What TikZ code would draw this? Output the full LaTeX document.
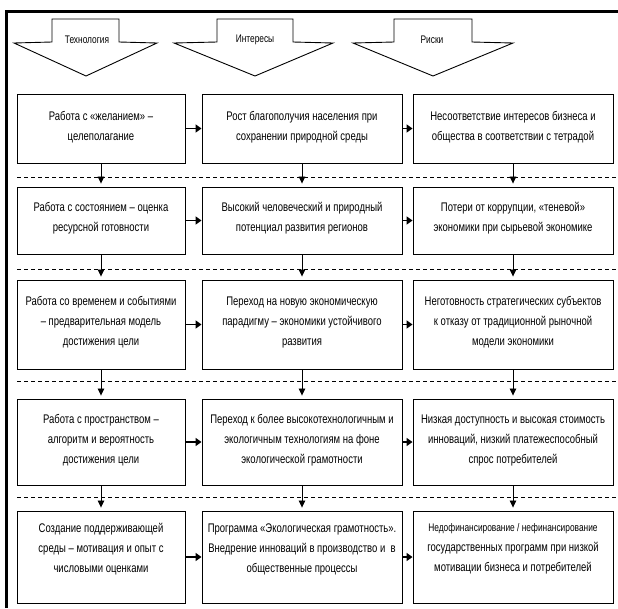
\documentclass[tikz,border=0pt]{standalone}
\usepackage{fontspec}
\setmainfont{Liberation Sans}[FakeStretch=0.76]
\usetikzlibrary{arrows.meta}
\begin{document}
\begin{tikzpicture}[x=1pt,y=-1pt,
  box/.style={draw=black,line width=0.9pt,rectangle,inner sep=0pt},
  txt/.style={align=center,inner sep=0pt,font=\fontsize{12.5}{20}\selectfont},
  toplabel/.style={inner sep=0pt,font=\fontsize{11}{12}\selectfont},
  blockarr/.style={draw=black,line width=0.9pt,line join=miter},
  harr/.style={draw=black,line width=1.8pt,-{Triangle[length=6pt,width=8pt]}},
  varr/.style={draw=black,line width=0.8pt,-{Triangle[length=7pt,width=6.5pt]},shorten >=3pt},
  dashline/.style={draw=black,line width=1pt,dash pattern=on 4pt off 3pt}
]
\useasboundingbox (0,0) rectangle (618,608);
\fill[white] (0,0) rectangle (618,608);
% frame
\draw[line width=3pt] (6.5,608) -- (6.5,11) -- (618,11);
% block arrows
\draw[blockarr] (52,19) -- (119,19) -- (119,42) -- (157,43) -- (86,76) -- (14,43) -- (52,42) -- cycle;
\draw[blockarr] (217,19) -- (293,19) -- (293,42) -- (333,43) -- (255,76) -- (174,43) -- (217,42) -- cycle;
\draw[blockarr] (394,19) -- (472,19) -- (472,42) -- (513,43) -- (433,76) -- (353,43) -- (394,42) -- cycle;
\node[toplabel] (h1) at (87,40) {Технология};
\node[toplabel] (h2) at (255,40) {Интересы};
\node[toplabel] (h3) at (432,40) {Риски};
% dashed separators
\draw[dashline] (17,177) -- (618,177);
\draw[dashline] (17,269) -- (618,269);
\draw[dashline] (17,381) -- (618,381);
\draw[dashline] (17,497) -- (618,497);
% boxes
\foreach \r/\cy/\h in {1/128.5/69, 2/220.5/67, 3/324.5/89, 4/442/86, 5/557/92}{
  \node[box,minimum width=168pt,minimum height=\h pt] (b\r1) at (101,\cy) {};
  \node[box,minimum width=200pt,minimum height=\h pt] (b\r2) at (302,\cy) {};
  \node[box,minimum width=200pt,minimum height=\h pt] (b\r3) at (513,\cy) {};
}
% texts
\node[txt] (t11) at (101,127) {Работа с «желанием» –\\целеполагание};
\node[txt] (t12) at (302,127) {Рост благополучия населения при\\сохранении природной среды};
\node[txt] (t13) at (513,127) {Несоответствие интересов бизнеса и\\общества в соответствии с тетрадой};
\node[txt] (t21) at (101,218) {Работа с состоянием – оценка\\ресурсной готовности};
\node[txt] (t22) at (302,218) {Высокий человеческий и природный\\потенциал развития регионов};
\node[txt] (t23) at (513,218) {Потери от коррупции, «теневой»\\экономики при сырьевой экономике};
\node[txt] (t31) at (101,322) {Работа со временем и событиями\\– предварительная модель\\достижения цели};
\node[txt] (t32) at (302,322) {Переход на новую экономическую\\парадигму – экономики устойчивого\\развития};
\node[txt] (t33) at (513,322) {Неготовность стратегических субъектов\\к отказу от традиционной рыночной\\модели экономики};
\node[txt] (t41) at (101,440) {Работа с пространством –\\алгоритм и вероятность\\достижения цели};
\node[txt] (t42) at (302,440) {Переход к более высокотехнологичным и\\экологичным технологиям на фоне\\экологической грамотности};
\node[txt] (t43) at (513,440) {Низкая доступность и высокая стоимость\\инноваций, низкий платежеспособный\\спрос потребителей};
\node[txt] (t51) at (101,549) {Создание поддерживающей\\среды – мотивация и опыт с\\числовыми оценками};
\node[txt] (t52) at (302,549) {Программа «Экологическая грамотность».\\Внедрение инноваций в производство и \ в\\общественные процессы};
\node[txt] (t53) at (513,549) {{\fontsize{11}{20}\selectfont Недофинансирование / нефинансирование}\\государственных программ при низкой\\мотивации бизнеса и потребителей};
% horizontal arrows
\foreach \r in {1,...,5}{
  \draw[harr] (b\r1.east) -- (b\r2.west);
  \draw[harr] (b\r2.east) -- (b\r3.west);
}
% vertical arrows
\foreach \r/\n in {1/2,2/3,3/4,4/5}{
  \foreach \c in {1,2,3}{
    \draw[varr] (b\r\c.south) -- (b\n\c.north);
  }
}
\end{tikzpicture}
\end{document}
